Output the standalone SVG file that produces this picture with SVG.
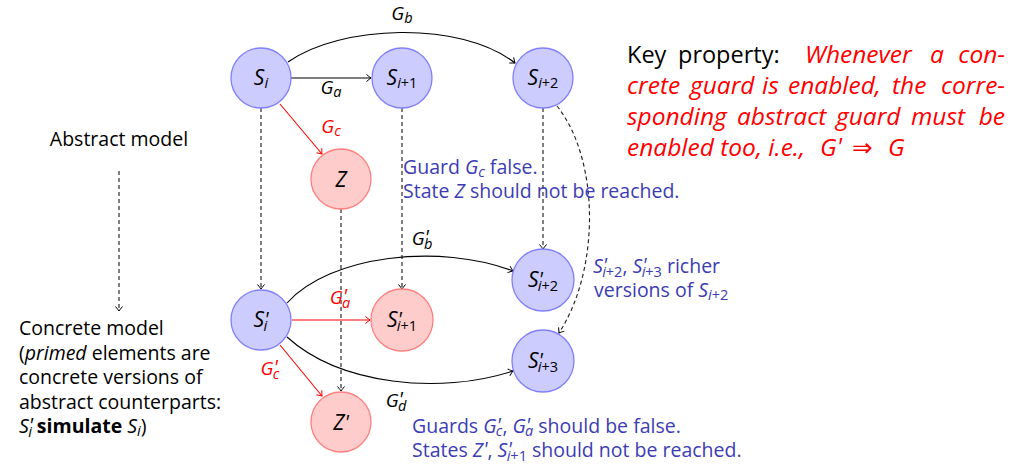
<svg xmlns="http://www.w3.org/2000/svg" width="1022" height="466" viewBox="0 0 1022 466">
  <style>
    .nb { fill: #ccccff; stroke: #8080ff; stroke-width: 1.3; }
    .nr { fill: #ffcccc; stroke: #ff8080; stroke-width: 1.3; }
    .nl { font-family: "Open Sans", "DejaVu Sans", sans-serif; font-style: italic; font-size: 21px; fill: #000; text-anchor: middle; }
    .el { font-family: "Open Sans", "DejaVu Sans", sans-serif; font-style: italic; font-size: 19px; fill: #000; text-anchor: middle; }
    .red { fill: #ff0000; }
    .sb { font-size: 14.5px; }
    .up { font-style: normal; }
    .sp { font-size: 20px; font-style: italic; font-family: "Open Sans", sans-serif; }
    .tx { font-family: "Open Sans", "DejaVu Sans", sans-serif; font-size: 19.5px; fill: #000; }
    .bt { font-family: "Open Sans", "DejaVu Sans", sans-serif; font-size: 19.5px; fill: #3c3cb4; }
    .kp { font-family: "Open Sans", "DejaVu Sans", sans-serif; font-size: 23.5px; fill: #000; }
    .kr { font-family: "Open Sans", "DejaVu Sans", sans-serif; font-size: 24.5px; font-style: italic; fill: #ff0000; }
    .mi { font-style: italic; }
    .e { fill: none; stroke: #000; stroke-width: 1.1; }
    .er { fill: none; stroke: #ff0000; stroke-width: 1.1; }
    .ed { fill: none; stroke: #222; stroke-width: 1.15; stroke-dasharray: 4 3; }
  </style>
  <defs>
    <marker id="ah" viewBox="-6 -5 8 10" refX="0" refY="0" markerWidth="8" markerHeight="10" orient="auto" markerUnits="userSpaceOnUse">
      <path d="M-4.5,-3.5 Q-1.5,-1 0,0 Q-1.5,1 -4.5,3.5" fill="none" stroke="#000" stroke-width="1"/>
    </marker>
    <marker id="ahr" viewBox="-6 -5 8 10" refX="0" refY="0" markerWidth="8" markerHeight="10" orient="auto" markerUnits="userSpaceOnUse">
      <path d="M-4.5,-3.5 Q-1.5,-1 0,0 Q-1.5,1 -4.5,3.5" fill="none" stroke="#ff0000" stroke-width="1"/>
    </marker>
  </defs>

  <!-- connectors -->
  <g id="edges">
    <!-- abstract transitions -->
    <path class="e" d="M291,78 L371,78" marker-end="url(#ah)"/>
    <path class="e" d="M288,62 C340,25 460,20 515,63" marker-end="url(#ah)"/>
    <path class="er" d="M280,104 L322,154" marker-end="url(#ahr)"/>
    <!-- refinement (dashed) -->
    <path class="ed" d="M261,108 L261,289" marker-end="url(#ah)"/>
    <path class="ed" d="M402,108 L402,289" marker-end="url(#ah)"/>
    <path class="ed" d="M543,108 L543,249" marker-end="url(#ah)"/>
    <path class="ed" d="M341,209 L341,391" marker-end="url(#ah)"/>
    <path class="ed" d="M557,106 C600,160 600,270 559,333" marker-end="url(#ah)"/>
    <path class="ed" d="M119,171 L119,311" marker-end="url(#ah)"/>
    <!-- concrete transitions -->
    <path class="er" d="M292,320 L370,320" marker-end="url(#ahr)"/>
    <path class="er" d="M280,345 L322,396" marker-end="url(#ahr)"/>
    <path class="e" d="M287,303 C330,255 440,243 513,271" marker-end="url(#ah)"/>
    <path class="e" d="M287,337 C340,385 440,395 513,371" marker-end="url(#ah)"/>
    <!-- edge labels -->
    <text class="el" x="402" y="20">G<tspan class="sb" dy="3">b</tspan></text>
    <text class="el" x="331" y="94">G<tspan class="sb" dy="3">a</tspan></text>
    <text class="el red" x="331" y="133">G<tspan class="sb" dy="3">c</tspan></text>
    <text class="el" x="422" y="245">G<tspan class="sp" dy="-1">'</tspan><tspan class="sb" dx="-5" dy="5">b</tspan></text>
    <text class="el red" x="340" y="304">G<tspan class="sp" dy="-1">'</tspan><tspan class="sb" dx="-5" dy="5">a</tspan></text>
    <text class="el red" x="270" y="375">G<tspan class="sp" dy="-1">'</tspan><tspan class="sb" dx="-5" dy="5">c</tspan></text>
    <text class="el" x="396" y="407">G<tspan class="sp" dy="-1">'</tspan><tspan class="sb" dx="-5" dy="5">d</tspan></text>
  </g>

  <!-- abstract states -->
  <g id="n-si">
    <circle class="nb" cx="261" cy="78" r="30"/>
    <text class="nl" x="261" y="85">S<tspan class="sb" dy="3">i</tspan></text>
  </g>
  <g id="n-si1">
    <circle class="nb" cx="402" cy="78" r="30"/>
    <text class="nl" x="402" y="85">S<tspan class="sb" dy="3">i</tspan><tspan class="sb up">+1</tspan></text>
  </g>
  <g id="n-si2">
    <circle class="nb" cx="543" cy="78" r="30"/>
    <text class="nl" x="543" y="85">S<tspan class="sb" dy="3">i</tspan><tspan class="sb up">+2</tspan></text>
  </g>
  <g id="n-z">
    <circle class="nr" cx="341" cy="179" r="30"/>
    <text class="nl" x="341" y="187">Z</text>
  </g>

  <!-- concrete states -->
  <g id="n-psi">
    <circle class="nb" cx="261" cy="320" r="30"/>
    <text class="nl" x="261" y="327">S<tspan class="sp" dy="-1">'</tspan><tspan class="sb" dx="-5" dy="5">i</tspan></text>
  </g>
  <g id="n-psi1">
    <circle class="nr" cx="402" cy="320" r="31"/>
    <text class="nl" x="402" y="327">S<tspan class="sp" dy="-1">'</tspan><tspan class="sb" dx="-5" dy="5">i</tspan><tspan class="sb up">+1</tspan></text>
  </g>
  <g id="n-psi2">
    <circle class="nb" cx="543" cy="280" r="31"/>
    <text class="nl" x="543" y="287">S<tspan class="sp" dy="-1">'</tspan><tspan class="sb" dx="-5" dy="5">i</tspan><tspan class="sb up">+2</tspan></text>
  </g>
  <g id="n-psi3">
    <circle class="nb" cx="543" cy="361" r="31"/>
    <text class="nl" x="543" y="368">S<tspan class="sp" dy="-1">'</tspan><tspan class="sb" dx="-5" dy="5">i</tspan><tspan class="sb up">+3</tspan></text>
  </g>
  <g id="n-pz">
    <circle class="nr" cx="341" cy="422" r="30"/>
    <text class="nl" x="341" y="430">Z<tspan class="sp" dy="-1">'</tspan></text>
  </g>

  <!-- left-hand legend -->
  <g id="legend">
    <text class="tx" x="119" y="146" text-anchor="middle">Abstract model</text>
    <text class="tx" x="19" y="335">Concrete model</text>
    <text class="tx" x="19" y="359.5">(<tspan class="mi">primed</tspan> elements are</text>
    <text class="tx" x="19" y="384">concrete versions of</text>
    <text class="tx" x="19" y="408.5">abstract counterparts:</text>
    <text class="tx" x="19" y="433"><tspan class="mi">S</tspan><tspan class="sp" dy="-1">'</tspan><tspan class="sb mi" dx="-5" dy="5">i</tspan><tspan dy="-4" font-weight="bold"> simulate </tspan><tspan class="mi">S</tspan><tspan class="sb mi" dy="3">i</tspan><tspan dy="-3">)</tspan></text>
  </g>

  <!-- annotations -->
  <g id="note-abstract">
    <text class="bt" x="403" y="174">Guard <tspan class="mi">G</tspan><tspan class="sb mi" dy="3">c</tspan><tspan dy="-3"> false.</tspan></text>
    <text class="bt" x="403" y="198">State <tspan class="mi">Z</tspan> should not be reached.</text>
  </g>
  <g id="note-richer">
    <text class="bt" x="593" y="273"><tspan class="mi">S</tspan><tspan class="sp" dy="-1">'</tspan><tspan class="sb mi" dx="-5" dy="5">i</tspan><tspan class="sb">+2</tspan><tspan dy="-4">, </tspan><tspan class="mi">S</tspan><tspan class="sp" dy="-1">'</tspan><tspan class="sb mi" dx="-5" dy="5">i</tspan><tspan class="sb">+3</tspan><tspan dy="-4"> richer</tspan></text>
    <text class="bt" x="594" y="297">versions of <tspan class="mi">S</tspan><tspan class="sb mi" dy="3">i</tspan><tspan class="sb">+2</tspan></text>
  </g>
  <g id="note-concrete">
    <text class="bt" x="412" y="433">Guards <tspan class="mi">G</tspan><tspan class="sp" dy="-1">'</tspan><tspan class="sb mi" dx="-5" dy="4">c</tspan><tspan dy="-3">, </tspan><tspan class="mi">G</tspan><tspan class="sp" dy="-1">'</tspan><tspan class="sb mi" dx="-5" dy="4">a</tspan><tspan dy="-3"> should be false.</tspan></text>
    <text class="bt" x="412" y="457">States <tspan class="mi">Z</tspan><tspan class="sp" dy="-1">'</tspan><tspan dy="1">, </tspan><tspan class="mi">S</tspan><tspan class="sp" dy="-1">'</tspan><tspan class="sb mi" dx="-5" dy="5">i</tspan><tspan class="sb">+1</tspan><tspan dy="-4"> should not be reached.</tspan></text>
  </g>

  <!-- key property statement (justified word by word) -->
  <g id="key-property">
    <text class="kp" x="627" y="63">Key</text>
    <text class="kp" x="678" y="63">property:</text>
    <text class="kr" x="805" y="63">Whenever</text>
    <text class="kr" x="930" y="63">a</text>
    <text class="kr" x="1005" y="63" text-anchor="end">con-</text>
    <text class="kr" x="627" y="94">crete</text>
    <text class="kr" x="690" y="94">guard</text>
    <text class="kr" x="762" y="94">is</text>
    <text class="kr" x="788" y="94">enabled,</text>
    <text class="kr" x="892" y="94">the</text>
    <text class="kr" x="1005" y="94" text-anchor="end">corre-</text>
    <text class="kr" x="627" y="125">sponding</text>
    <text class="kr" x="737" y="125">abstract</text>
    <text class="kr" x="836" y="125">guard</text>
    <text class="kr" x="911" y="125">must</text>
    <text class="kr" x="1005" y="125" text-anchor="end">be</text>
    <text class="kr" x="627" y="156">enabled too, i.e.,</text>
    <text class="kr" x="820" y="156">G<tspan font-size="24px" dy="-1">'</tspan></text>
    <text class="kr" x="852" y="156" font-style="normal" font-family="DejaVu Sans, sans-serif">⇒</text>
    <text class="kr" x="888" y="156">G</text>
  </g>
</svg>
